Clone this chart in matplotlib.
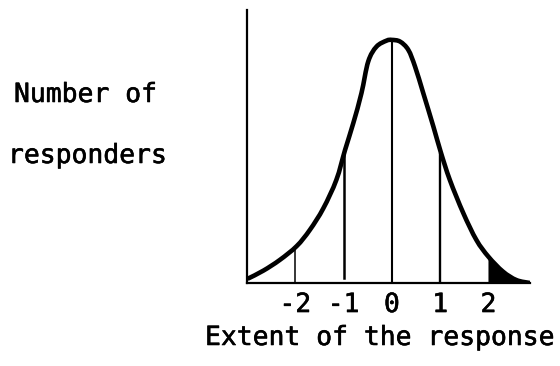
import matplotlib
matplotlib.use('Agg')
import matplotlib.pyplot as plt
import matplotlib.patheffects as pe
from matplotlib.path import Path
from matplotlib.patches import PathPatch
import numpy as np

# response curve, read as (extent, relative number of responders)
curve_x = [-2.97, -2.66, -2.32, -1.97, -1.70, -1.42, -1.15, -0.97, -0.80, -0.63,
           -0.49, -0.32, -0.11, 0.0, 0.17, 0.34, 0.48, 0.65, 0.86, 1.01,
           1.20, 1.48, 1.75, 2.0, 2.30, 2.58, 2.86]
curve_y = [0.019, 0.051, 0.095, 0.152, 0.218, 0.307, 0.424, 0.547, 0.657, 0.781,
           0.911, 0.972, 0.997, 1.0, 0.993, 0.959, 0.890, 0.781, 0.643, 0.540,
           0.424, 0.287, 0.177, 0.108, 0.047, 0.012, 0.0]

# vertical dividers at whole steps of the response
divider_x = [-2, -1, 0, 1]
divider_top = [0.15, 0.53, 1.0, 0.53]
divider_bottom = [0.0, 0.02, 0.0, 0.0]
divider_width = [1.1, 1.8, 1.5, 1.7]

tick_pos = [-2, -1, 0, 1, 2]
tick_labels = ['-2', '-1', '0', '1', '2']
tail_start = 2.0

font = 'DejaVu Sans Mono'
fsize = 19
heavy = [pe.withStroke(linewidth=0.4, foreground='black')]


def smooth_path(xs, ys):
    """Catmull-Rom through the points, as cubic bezier segments."""
    pts = np.column_stack([xs, ys])
    ext = np.vstack([pts[0], pts, pts[-1]])
    verts = [pts[0]]
    codes = [Path.MOVETO]
    for i in range(1, len(ext) - 2):
        p0, p1, p2, p3 = ext[i - 1], ext[i], ext[i + 1], ext[i + 2]
        verts += [p1 + (p2 - p0) / 6, p2 - (p3 - p1) / 6, p2]
        codes += [Path.CURVE4] * 3
    return verts, codes


fig = plt.figure(figsize=(5.6, 3.66), dpi=100)
ax = fig.add_axes([247 / 560, 83 / 366, (530 - 247) / 560, 273 / 366])

cx = np.array(curve_x)
cy = np.array(curve_y)

# shaded upper tail
tail = cx >= tail_start
tv, tc = smooth_path(cx[tail], cy[tail])
tv = tv + [(cx[tail][-1], 0), (cx[tail][0], 0), tv[0]]
tc = tc + [Path.LINETO, Path.LINETO, Path.CLOSEPOLY]
ax.add_patch(PathPatch(Path(tv, tc), facecolor='black', edgecolor='none'))

for x, top, bottom, lw in zip(divider_x, divider_top, divider_bottom, divider_width):
    ax.plot([x, x], [bottom, top], color='black', linewidth=lw)

v, c = smooth_path(cx, cy)
ax.add_patch(PathPatch(Path(v, c), facecolor='none', edgecolor='black',
                       linewidth=3.3, capstyle='round'))

ax.set_xlim(-3.0, 2.86)
ax.set_ylim(0, 1.123)
for side in ['top', 'right']:
    ax.spines[side].set_visible(False)
for side in ['left', 'bottom']:
    ax.spines[side].set_linewidth(1.6)
ax.set_yticks([])
ax.set_xticks(tick_pos, tick_labels)
ax.tick_params(axis='x', length=0, pad=6.5)
for lab in ax.get_xticklabels():
    lab.set_fontfamily(font)
    lab.set_fontsize(fsize)
    lab.set_path_effects(heavy)

fig.text(14 / 560, 1 - 102 / 366, 'Number of', fontfamily=font, fontsize=fsize,
         va='baseline', ha='left', path_effects=heavy)
fig.text(8 / 560, 1 - 163 / 366, 'responders', fontfamily=font, fontsize=fsize,
         va='baseline', ha='left', path_effects=heavy)
fig.text(205 / 560, 1 - 345 / 366, 'Extent of the response', fontfamily=font,
         fontsize=fsize, va='baseline', ha='left', path_effects=heavy)

fig.savefig('out.png', dpi=100, facecolor='white')
